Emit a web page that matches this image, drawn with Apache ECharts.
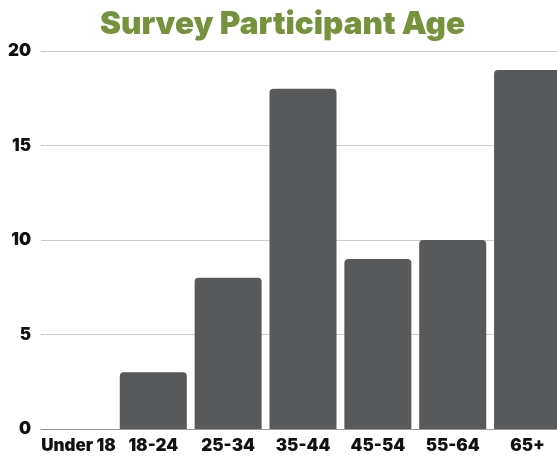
<!DOCTYPE html>
<html><head><meta charset="utf-8">
<script src="https://cdn.jsdelivr.net/npm/echarts@6/dist/echarts.min.js"></script>
<style>html,body{margin:0;padding:0;background:#fff;overflow:hidden;width:557px;height:457px}#c{width:565px;height:457px}</style>
</head><body><div id="c"></div>
<script>
const categories = ['Under 18','18-24','25-34','35-44','45-54','55-64','65+'];
const values = [0,3,8,18,9,10,19];
const yTicks = [0,5,10,15,20];
const chart = echarts.init(document.getElementById('c'));
chart.setOption({
  animation:false,
  title:{text:'Survey Participant Age',left:'center',top:4,padding:[5,12,5,5],
    textStyle:{fontFamily:'Inter',fontWeight:900,fontSize:31.5,color:'#76923c'}},
  grid:{left:41,top:51,right:0,bottom:28,containLabel:false},
  xAxis:{type:'category',data:categories,
    axisLine:{lineStyle:{color:'#9a9a9a'}},axisTick:{show:false},
    axisLabel:{color:'#111',fontFamily:'Inter',fontWeight:900,fontSize:17,margin:8,interval:0}},
  yAxis:{type:'value',min:yTicks[0],max:yTicks[yTicks.length-1],interval:5,
    axisLabel:{color:'#111',fontFamily:'Inter',fontWeight:900,fontSize:17,margin:10},
    splitLine:{lineStyle:{color:'#cccccc'}}},
  series:[{type:'bar',data:values,barCategoryGap:'10.5%',
    itemStyle:{color:'#58595b',borderRadius:[4,4,0,0]}}]
});
</script></body></html>
